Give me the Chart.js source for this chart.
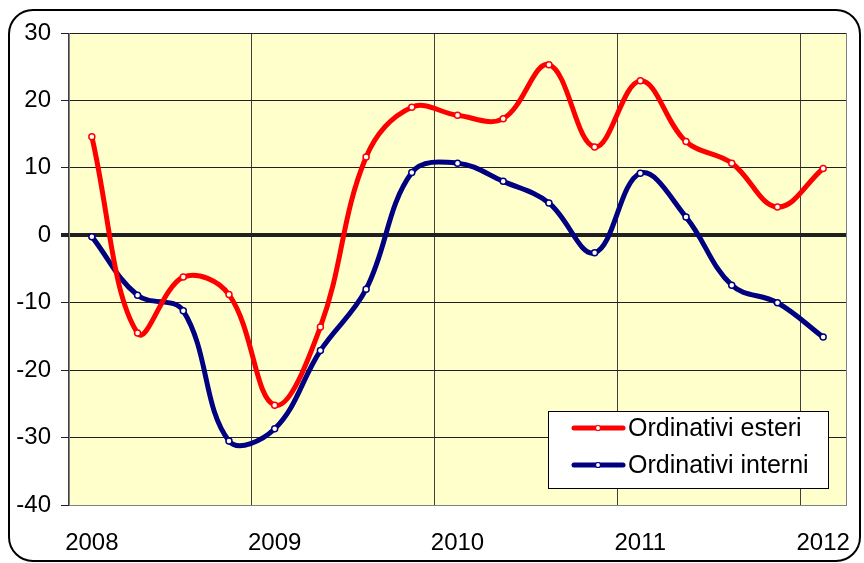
<!DOCTYPE html>
<html>
<head>
<meta charset="utf-8">
<script src="https://cdn.jsdelivr.net/npm/chart.js@4"></script>
<style>
  html, body { margin: 0; padding: 0; background: #fff; }
  #wrap { width: 864px; height: 563px; }
</style>
</head>
<body>
<div id="wrap"><canvas id="chart" width="864" height="563"></canvas></div>
<script>
// quarterly categories, 2008 Q1 .. 2012 Q1
const categories = [
  'I 2008', 'II 2008', 'III 2008', 'IV 2008',
  'I 2009', 'II 2009', 'III 2009', 'IV 2009',
  'I 2010', 'II 2010', 'III 2010', 'IV 2010',
  'I 2011', 'II 2011', 'III 2011', 'IV 2011',
  'I 2012'
];
const esteri  = [14.6, -14.5, -6.2, -8.8, -25.2, -13.6, 11.6, 19.0, 17.8, 17.3, 25.3, 13.1, 22.9, 13.9, 10.7, 4.2, 9.9];
const interni = [-0.2, -8.9, -11.2, -30.5, -28.7, -17.1, -8.0, 9.3, 10.7, 8.0, 4.8, -2.6, 9.2, 2.7, -7.4, -10.0, -15.1];
const seriesNames = ['Ordinativi esteri', 'Ordinativi interni'];
const seriesColors = ['#FF0000', '#000080'];

const FONT = '"Liberation Sans", Arial, sans-serif';

// white page, rounded frame, yellow plot area
const framePlugin = {
  id: 'frame',
  beforeDraw(chart) {
    const ctx = chart.ctx, a = chart.chartArea;
    ctx.save();
    ctx.fillStyle = '#fff';
    ctx.fillRect(0, 0, chart.width, chart.height);
    ctx.beginPath();
    ctx.roundRect(9, 10, 851, 551, 24);
    ctx.lineWidth = 2;
    ctx.strokeStyle = '#000';
    ctx.stroke();
    ctx.fillStyle = '#FFFFCC';
    ctx.fillRect(a.left, a.top, a.right - a.left, a.bottom - a.top);
    ctx.strokeStyle = '#808080';
    ctx.lineWidth = 1;
    ctx.strokeRect(a.left + 0.5, a.top + 0.5, a.right - a.left, a.bottom - a.top);
    ctx.restore();
  }
};

// legend box inside plot, bottom right
const legendBox = {
  id: 'legendBox',
  afterDraw(chart) {
    const ctx = chart.ctx;
    const x = 548, y = 411, w = 280, h = 77;
    ctx.save();
    ctx.fillStyle = '#fff';
    ctx.fillRect(x, y, w, h);
    ctx.strokeStyle = '#000';
    ctx.lineWidth = 1;
    ctx.strokeRect(x + 0.5, y + 0.5, w, h);
    chart.data.datasets.forEach(function(ds, i) {
      const ly = y + 17 + i * 37;
      ctx.strokeStyle = ds.borderColor;
      ctx.lineWidth = 5;
      ctx.lineCap = 'round';
      ctx.beginPath();
      ctx.moveTo(574, ly);
      ctx.lineTo(623, ly);
      ctx.stroke();
      ctx.beginPath();
      ctx.arc(598, ly, 2.5, 0, Math.PI * 2);
      ctx.fillStyle = '#fff';
      ctx.fill();
      ctx.lineWidth = 1.2;
      ctx.stroke();
      ctx.fillStyle = '#000';
      ctx.font = '25px ' + FONT;
      ctx.textBaseline = 'middle';
      ctx.fillText(ds.label, 628, ly + 1);
    });
    ctx.restore();
  }
};

function makeSet(i, values) {
  return {
    label: seriesNames[i],
    data: values,
    borderColor: seriesColors[i],
    backgroundColor: '#fff',
    borderWidth: 5,
    tension: 0.38,
    pointRadius: 3,
    pointBorderWidth: 1.5,
    pointBackgroundColor: '#fff',
    pointBorderColor: seriesColors[i]
  };
}

new Chart(document.getElementById('chart'), {
  type: 'line',
  data: {
    labels: categories,
    datasets: [makeSet(0, esteri), makeSet(1, interni)]
  },
  plugins: [framePlugin, legendBox],
  options: {
    responsive: false,
    animation: false,
    layout: { padding: { left: 0, top: 33, right: 18, bottom: 0 } },
    plugins: { legend: { display: false }, tooltip: { enabled: false } },
    scales: {
      x: {
        offset: true,
        afterFit: function(scale) {
          scale.height = 58;
          scale.paddingLeft = 0;
          scale.paddingRight = 0;
        },
        grid: {
          offset: true,
          drawTicks: false,
          color: function(c) { return c.index % 4 === 0 ? '#404040' : 'rgba(0,0,0,0)'; },
          lineWidth: 1
        },
        border: { color: '#808080' },
        ticks: {
          autoSkip: false,
          maxRotation: 0,
          padding: 24,
          color: '#000',
          font: { family: FONT, size: 24 },
          callback: function(v, i) {
            const lab = categories[i];
            return lab.indexOf('I ') === 0 ? lab.split(' ')[1] : '';
          }
        }
      },
      y: {
        min: -40,
        max: 30,
        afterFit: function(scale) {
          scale.width = 69;
          scale.paddingTop = 0;
          scale.paddingBottom = 0;
        },
        grid: {
          color: '#202020',
          lineWidth: function(c) { return c.tick && c.tick.value === 0 ? 4 : 1; },
          tickLength: 8
        },
        border: { color: '#808080' },
        ticks: {
          stepSize: 10,
          padding: 10,
          color: '#000',
          font: { family: FONT, size: 24 }
        }
      }
    }
  }
});
</script>
</body>
</html>
